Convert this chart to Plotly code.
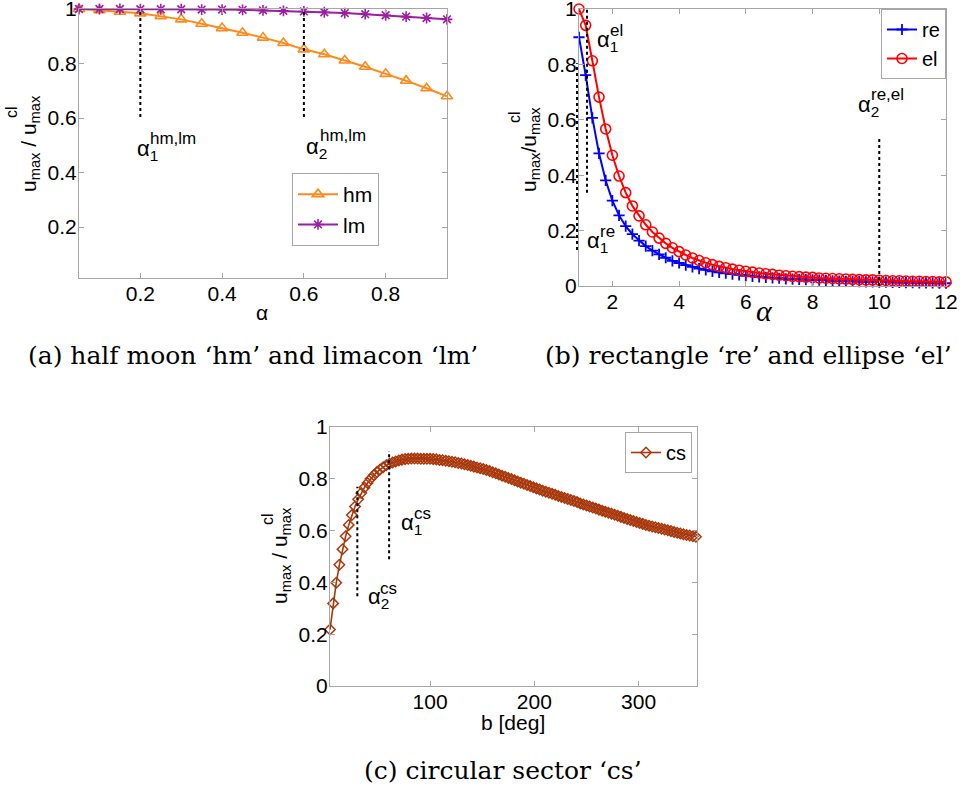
import plotly.graph_objects as go

# ---------------- data ----------------
# (a) half moon / limacon
alpha_a = [0.05, 0.10, 0.15, 0.20, 0.25, 0.30, 0.35, 0.40, 0.45, 0.50,
           0.55, 0.60, 0.65, 0.70, 0.75, 0.80, 0.85, 0.90, 0.95]
hm = [1.000, 0.996, 0.990, 0.984, 0.974, 0.962, 0.946, 0.930, 0.913, 0.895,
      0.875, 0.852, 0.834, 0.811, 0.788, 0.762, 0.737, 0.709, 0.680]
lm = [1.000, 1.000, 1.000, 0.999, 0.999, 0.999, 0.998, 0.998, 0.997, 0.995,
      0.993, 0.991, 0.988, 0.985, 0.981, 0.977, 0.972, 0.967, 0.962]

# (b) rectangle / ellipse
alpha_b = [round(1 + 0.2 * i, 1) for i in range(56)]
re_vals = [0.898, 0.761, 0.607, 0.479, 0.381, 0.308, 0.255, 0.216, 0.187, 0.164,
           0.144, 0.128, 0.114, 0.102, 0.091, 0.083, 0.075, 0.069, 0.063, 0.058,
           0.053, 0.049, 0.046, 0.043, 0.040, 0.037, 0.035, 0.033, 0.031, 0.029,
           0.028, 0.026, 0.025, 0.024, 0.023, 0.022, 0.021, 0.020, 0.019, 0.018,
           0.017, 0.017, 0.016, 0.015, 0.015, 0.014, 0.014, 0.013, 0.013, 0.012,
           0.012, 0.011, 0.011, 0.011, 0.010, 0.010]
el_vals = [1.000, 0.941, 0.813, 0.682, 0.567, 0.472, 0.397, 0.337, 0.289, 0.253,
           0.221, 0.195, 0.173, 0.154, 0.138, 0.124, 0.112, 0.101, 0.092, 0.084,
           0.077, 0.071, 0.066, 0.061, 0.057, 0.053, 0.050, 0.047, 0.044, 0.042,
           0.039, 0.037, 0.035, 0.034, 0.032, 0.031, 0.029, 0.028, 0.027, 0.026,
           0.025, 0.024, 0.023, 0.022, 0.022, 0.021, 0.020, 0.019, 0.019, 0.018,
           0.017, 0.017, 0.016, 0.016, 0.015, 0.015]

# (c) circular sector
b_deg = list(range(4, 356, 3))
cs_vals = [0.218, 0.319, 0.399, 0.468, 0.528, 0.578, 0.622, 0.660, 0.693, 0.721,
           0.745, 0.766, 0.784, 0.800, 0.814, 0.826, 0.836, 0.845, 0.852, 0.858,
           0.863, 0.867, 0.871, 0.874, 0.876, 0.877, 0.878, 0.878, 0.878, 0.877,
           0.877, 0.877, 0.877, 0.876, 0.875, 0.873, 0.872, 0.870, 0.868, 0.866,
           0.864, 0.861, 0.859, 0.856, 0.853, 0.850, 0.847, 0.844, 0.841, 0.838,
           0.834, 0.830, 0.825, 0.821, 0.817, 0.812, 0.808, 0.803, 0.799, 0.794,
           0.790, 0.785, 0.781, 0.776, 0.772, 0.767, 0.763, 0.759, 0.754, 0.750,
           0.746, 0.742, 0.738, 0.734, 0.730, 0.726, 0.722, 0.718, 0.714, 0.710,
           0.705, 0.701, 0.697, 0.693, 0.689, 0.685, 0.681, 0.677, 0.673, 0.669,
           0.665, 0.661, 0.657, 0.653, 0.649, 0.645, 0.641, 0.637, 0.633, 0.629,
           0.626, 0.622, 0.619, 0.616, 0.613, 0.610, 0.607, 0.604, 0.601, 0.598,
           0.595, 0.592, 0.589, 0.586, 0.583, 0.581, 0.578, 0.576]

# threshold markers: (x, y_bottom, y_top)
thr_a = [(0.2, 0.604, 1.0), (0.6, 0.604, 1.0)]
thr_b = [(0.94, 0.130, 0.804), (1.24, 0.337, 1.0), (10.0, 0.0, 0.533)]
thr_c = [(30.2, 0.347, 0.769), (60.7, 0.489, 0.907)]

# alpha labels: (x, y, subscript, superscript, sup_x, sup_y)
lab_a = [(0.188, 0.484, "1", "hm,lm", 0.2196, 0.526),
         (0.600, 0.490, "2", "hm,lm", 0.634, 0.535)]
lab_b = [(1.49, 0.884, "1", "el", 1.88, 0.922),
         (1.19, 0.160, "1", "re", 1.58, 0.195),
         (9.29, 0.650, "2", "re,el", 9.69, 0.693)]
lab_c = [(70.5, 0.625, "1", "cs", 82.9, 0.667),
         (39.0, 0.341, "2", "cs", 50.5, 0.378)]

# ---------------- figure ----------------
W, H = 960, 794
ORANGE = "#FF8A1C"
PURPLE = "#9B1FA0"
BLUE = "#0000FF"
RED = "#FF0000"
BROWN = "#A8380C"
GRAY = "#A6A6A6"
SANS = "Liberation Sans, Arial, sans-serif"
SERIF = "DejaVu Serif, serif"

def px_x(p):
    return p / W

def px_y(p):
    return 1 - p / H

fig = go.Figure()

fig.add_trace(go.Scatter(x=alpha_a, y=hm, name="hm", mode="lines+markers",
                         line=dict(color=ORANGE, width=2),
                         marker=dict(symbol="triangle-up-open", size=10, color=ORANGE,
                                     line=dict(width=1.6, color=ORANGE)),
                         xaxis="x", yaxis="y", legend="legend", cliponaxis=False))
fig.add_trace(go.Scatter(x=alpha_a, y=lm, name="lm", mode="lines+markers",
                         line=dict(color=PURPLE, width=2),
                         marker=dict(symbol="asterisk-open", size=9, color=PURPLE,
                                     line=dict(width=1.6, color=PURPLE)),
                         xaxis="x", yaxis="y", legend="legend", cliponaxis=False))

fig.add_trace(go.Scatter(x=alpha_b, y=re_vals, name="re", mode="lines+markers",
                         line=dict(color=BLUE, width=2),
                         marker=dict(symbol="cross-thin-open", size=8, color=BLUE,
                                     line=dict(width=1.8, color=BLUE)),
                         xaxis="x2", yaxis="y2", legend="legend2", cliponaxis=False))
fig.add_trace(go.Scatter(x=alpha_b, y=el_vals, name="el", mode="lines+markers",
                         line=dict(color=RED, width=2),
                         marker=dict(symbol="circle-open", size=10, color=RED,
                                     line=dict(width=1.6, color=RED)),
                         xaxis="x2", yaxis="y2", legend="legend2", cliponaxis=False))

fig.add_trace(go.Scatter(x=b_deg, y=cs_vals, name="cs", mode="lines+markers",
                         line=dict(color=BROWN, width=1.6),
                         marker=dict(symbol="diamond-open", size=8, color=BROWN,
                                     line=dict(width=1.5, color=BROWN)),
                         xaxis="x3", yaxis="y3", legend="legend3", cliponaxis=False))

axis_style = dict(showline=True, linecolor=GRAY, linewidth=1, mirror="ticks",
                  ticks="inside", ticklen=5, tickcolor=GRAY, tickwidth=1,
                  showgrid=False, zeroline=False, automargin=False,
                  ticklabeloverflow="allow", ticklabelstandoff=-3,
                  tickfont=dict(family=SANS, size=21, color="black"))

rng_a = ([0.05, 0.95], [0.013, 1.0])
rng_b = ([1.0, 12.0], [0.0, 1.0])
rng_c = ([4.0, 356.0], [0.0, 1.0])

fig.update_layout(
    width=W, height=H, autosize=False,
    margin=dict(l=0, r=0, t=0, b=0, autoexpand=False),
    paper_bgcolor="white", plot_bgcolor="white",
    font=dict(family=SANS, size=21, color="black"),
    xaxis=dict(domain=[px_x(79), px_x(447)], anchor="y", range=rng_a[0],
               tickvals=[0.2, 0.4, 0.6, 0.8], ticktext=["0.2", "0.4", "0.6", "0.8"], **axis_style),
    yaxis=dict(domain=[px_y(278), px_y(9)], anchor="x", range=rng_a[1],
               tickvals=[0.2, 0.4, 0.6, 0.8, 1.0], ticktext=["0.2", "0.4", "0.6", "0.8", "1"], **axis_style),
    xaxis2=dict(domain=[px_x(579), px_x(946)], anchor="y2", range=rng_b[0],
                tickvals=[2, 4, 6, 8, 10, 12], **axis_style),
    yaxis2=dict(domain=[px_y(286), px_y(9)], anchor="x2", range=rng_b[1],
                tickvals=[0, 0.2, 0.4, 0.6, 0.8, 1.0], ticktext=["0", "0.2", "0.4", "0.6", "0.8", "1"], **axis_style),
    xaxis3=dict(domain=[px_x(330), px_x(697)], anchor="y3", range=rng_c[0],
                tickvals=[100, 200, 300], **axis_style),
    yaxis3=dict(domain=[px_y(686), px_y(427)], anchor="x3", range=rng_c[1],
                tickvals=[0, 0.2, 0.4, 0.6, 0.8, 1.0], ticktext=["0", "0.2", "0.4", "0.6", "0.8", "1"], **axis_style),
    legend=dict(x=px_x(292), y=px_y(173), xanchor="left", yanchor="top",
                bordercolor=GRAY, borderwidth=1, bgcolor="white",
                font=dict(family=SANS, size=21), tracegroupgap=0,
                itemwidth=40),
    legend2=dict(x=px_x(946), y=px_y(9), xanchor="right", yanchor="top",
                 bordercolor=GRAY, borderwidth=1, bgcolor="white",
                 font=dict(family=SANS, size=20), tracegroupgap=0),
    legend3=dict(x=px_x(692), y=px_y(432), xanchor="right", yanchor="top",
                 bordercolor=GRAY, borderwidth=1, bgcolor="white",
                 font=dict(family=SANS, size=20), tracegroupgap=0),
    showlegend=True,
)

# dotted threshold lines (domain-referenced so they are never clipped)
def add_thr(lines, xa, ya, rng):
    (x0, x1), (y0, y1) = rng
    for x, yb, yt in lines:
        xd = (x - x0) / (x1 - x0)
        fig.add_shape(type="line", xref=xa + " domain", yref=ya + " domain",
                      x0=xd, x1=xd, y0=(yb - y0) / (y1 - y0), y1=(yt - y0) / (y1 - y0),
                      line=dict(color="black", width=2, dash="dot"), layer="above")

add_thr(thr_a, "x", "y", rng_a)
add_thr(thr_b, "x2", "y2", rng_b)
add_thr(thr_c, "x3", "y3", rng_c)

def add_labels(labels, xa, ya):
    for x, y, sub, sup, sx, sy in labels:
        fig.add_annotation(x=x, y=y, xref=xa, yref=ya, xanchor="left", yanchor="middle",
                           text="α<sub>" + sub + "</sub>", showarrow=False,
                           font=dict(family=SANS, size=22, color="black"))
        fig.add_annotation(x=sx, y=sy, xref=xa, yref=ya, xanchor="left", yanchor="middle",
                           text=sup, showarrow=False,
                           font=dict(family=SANS, size=17, color="black"))

add_labels(lab_a, "x", "y")
add_labels(lab_b, "x2", "y2")
add_labels(lab_c, "x3", "y3")

def paper_text(text, x, y, size, family=SANS, angle=0, italic=False):
    fig.add_annotation(x=px_x(x), y=px_y(y), xref="paper", yref="paper",
                       xanchor="center", yanchor="middle", text=text, showarrow=False,
                       textangle=angle,
                       font=dict(family=family, size=size, color="black",
                                 style="italic" if italic else "normal"))

# axis titles
paper_text("α", 262, 312, 21)
paper_text("α", 764, 310, 30, family="Liberation Serif, serif", italic=True)
paper_text("b [deg]", 513, 722, 21)

paper_text("u<sub>max</sub> / u<sub>max</sub>", 30, 144, 21, angle=-90)
paper_text("cl", 12, 112, 16, angle=-90)
paper_text("u<sub>max</sub>/u<sub>max</sub>", 530, 150, 21, angle=-90)
paper_text("cl", 514, 117, 16, angle=-90)
paper_text("u<sub>max</sub> / u<sub>max</sub>", 281, 556, 21, angle=-90)
paper_text("cl", 267, 519, 16, angle=-90)

# captions
paper_text("(a) half moon ‘hm’ and limacon ‘lm’", 253, 355, 25, family=SERIF)
paper_text("(b) rectangle ‘re’ and ellipse ‘el’", 748, 355, 25, family=SERIF)
paper_text("(c) circular sector ‘cs’", 503, 770, 25, family=SERIF)

fig.write_html("out.html", config={"displayModeBar": False},
               post_script="document.body.style.margin='0';document.body.style.overflow='hidden';")
